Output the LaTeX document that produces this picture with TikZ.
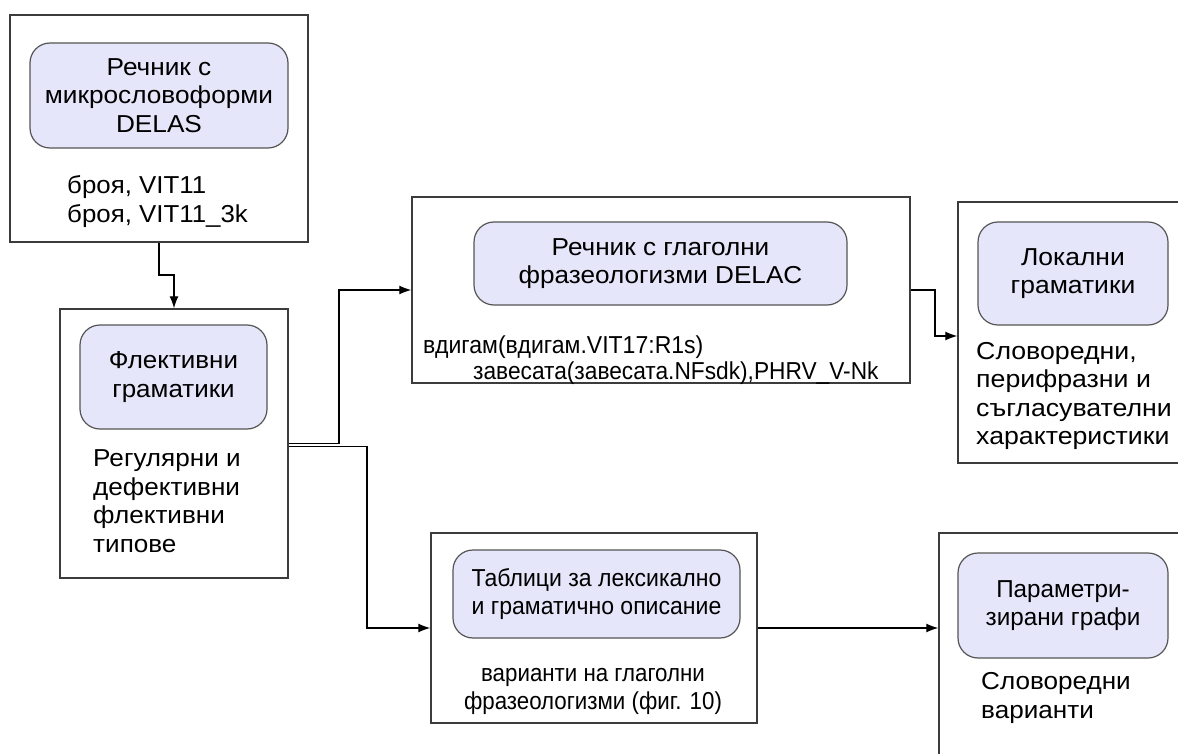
\documentclass[tikz,border=0pt]{standalone}
\usepackage{fontspec}
\setmainfont{Liberation Sans}
\usetikzlibrary{arrows.meta,calc}
\definecolor{lav}{RGB}{230,230,250}
\definecolor{bord}{RGB}{60,60,60}
\definecolor{ibord}{RGB}{85,85,85}
\begin{document}
\begin{tikzpicture}[x=1pt,y=-1pt,
  outer/.style={draw=bord,line width=1.4pt,fill=white,inner sep=0pt},
  inner/.style={draw=ibord,line width=1.2pt,fill=lav,rounded corners=20pt,inner sep=0pt},
  lbl/.style={inner sep=0pt,align=center,font=\fontsize{24.5}{28.5}\selectfont},
  txt/.style={inner sep=0pt,align=left,anchor=west,font=\fontsize{24.5}{28.5}\selectfont},
  conn/.style={draw=black,line width=1.3pt,-{Latex[length=12pt,width=9pt]}}]
\useasboundingbox (0,0) rectangle (1178,754);
\clip (0,0) rectangle (1178,754);
\fill[white] (0,0) rectangle (1178,754);
% boxes
\node[outer,minimum width=298pt,minimum height=227pt] (A) at (159,128.5) {};
\node[inner,minimum width=258pt,minimum height=105pt] (A1) at (159,95.5) {};
\node[lbl,xscale=1.07] (A1t) at (A1.center) {Речник с\\микрословоформи\\DELAS};
\node[txt,xscale=1.055] (At) at (67,201.5) {броя, VIT11\\броя, VIT11\_3k};

\node[outer,minimum width=228pt,minimum height=269pt] (B) at (174,443.5) {};
\node[inner,minimum width=187pt,minimum height=104pt] (B1) at (173.5,377) {};
\node[lbl,xscale=1.06] (B1t) at (B1.center) {Флективни\\граматики};
\node[txt,xscale=1.065] (Bt) at (93,501) {Регулярни и\\дефективни\\флективни\\типове};

\node[outer,minimum width=498pt,minimum height=186pt] (C) at (661,290) {};
\node[inner,minimum width=373pt,minimum height=83pt] (C1) at (660.5,263.5) {};
\node[lbl,xscale=1.067] (C1t) at (C1.center) {Речник с глаголни\\фразеологизми DELAC};
\node[txt,xscale=0.94] (Ct1) at (423,347) {вдигам(вдигам.VIT17:R1s)};
\node[txt,xscale=0.927] (Ct2) at (473,373) {завесата(завесата.NFsdk),PHRV\_V-Nk};

\node[outer,minimum width=260pt,minimum height=261pt] (D) at (1088,332.5) {};
\node[inner,minimum width=190pt,minimum height=103pt] (D1) at (1073,273.5) {};
\node[lbl,xscale=1.08] (D1t) at (D1.center) {Локални\\граматики};
\node[txt,xscale=1.09] (Dt) at (976,396) {Словоредни,\\перифразни и\\съгласувателни\\характеристики};

\node[outer,minimum width=326pt,minimum height=190pt] (E) at (594,628) {};
\node[inner,minimum width=287pt,minimum height=88pt] (E1) at (596.5,594) {};
\node[lbl,xscale=0.94] (E1t) at (E1.center) {Таблици за лексикално\\и граматично описание};
\node[lbl,xscale=0.91] (Et) at (593,691.5) {варианти на глаголни\\фразеологизми (фиг. 10)};

\node[outer,minimum width=280pt,minimum height=280pt] (F) at (1079,673) {};
\node[inner,minimum width=210pt,minimum height=105pt] (F1) at (1063,605.5) {};
\node[lbl,xscale=0.99] (F1t) at (F1.center) {Параметри-\\зирани графи};
\node[txt,xscale=1.065] (Ft) at (981,698) {Словоредни\\варианти};

% connectors
\coordinate (a1) at (159,275);
\draw[conn] (A.south) -- (a1) -| (B.north);
\coordinate (b1) at (339,443.5);
\draw[conn] (B.east) -- (b1) |- (C.west);
\coordinate (b2) at (367,446.5);
\draw[conn] ([yshift=-3pt]B.east) -- (b2) |- (E.west);
\coordinate (c1) at (935,290);
\draw[conn] (C.east) -- (c1) |- ([yshift=-3.5pt]D.west);
\draw[conn] (E.east) -- (E.east -| F.west);
\end{tikzpicture}
\end{document}
